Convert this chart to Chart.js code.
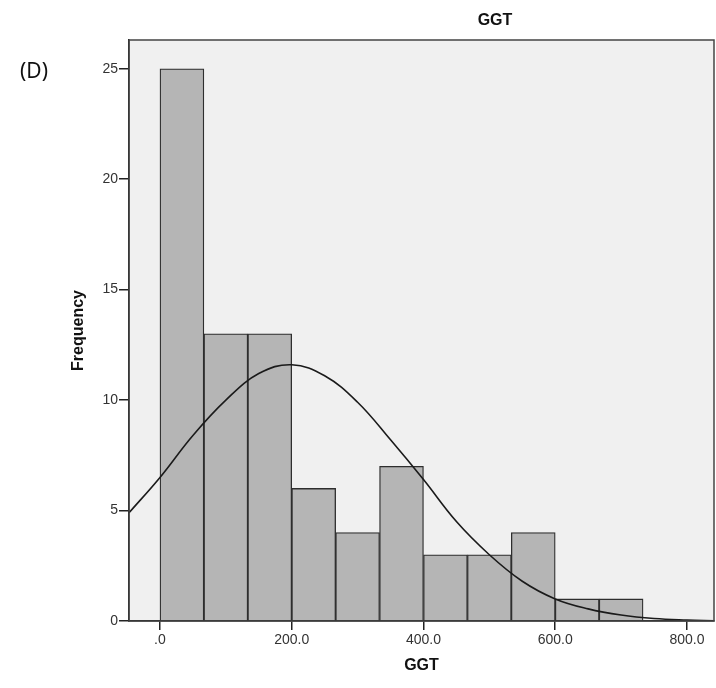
<!DOCTYPE html>
<html>
<head>
<meta charset="utf-8">
<script src="https://cdn.jsdelivr.net/npm/chart.js@4.4.0/dist/chart.umd.min.js"></script>
<style>
  html, body { margin: 0; padding: 0; background: #fff; }
  #wrap { position: relative; width: 716px; height: 688px; }
  #panel-label { position: absolute; left: 20px; top: 56px; font: 21px 'Noto Sans', sans-serif; color: #111; }
</style>
</head>
<body>
<div id="wrap">
  <canvas id="chart-ggt" width="716" height="688"></canvas>
  <div id="panel-label">(D)</div>
</div>
<script>
// Histogram bins (GGT) and counts
const binEdges = [0, 66.7, 133.3, 200, 266.7, 333.3, 400, 466.7, 533.3, 600, 666.7, 733.3];
const frequencies = [25, 13, 13, 6, 4, 7, 3, 3, 4, 1, 1];

// Fitted normal curve
const curveX = [-47, 0, 50, 100, 150, 200, 250, 300, 350, 400, 450, 500, 550, 600, 650, 700, 750, 800, 841];
const curveY = [4.9, 6.5, 8.4, 10.0, 11.2, 11.6, 11.1, 9.9, 8.2, 6.4, 4.5, 3.0, 1.8, 1.0, 0.55, 0.27, 0.11, 0.04, 0.01];

// Axis ticks
const xTicks = [0, 200, 400, 600, 800];
const xTickLabels = ['.0', '200.0', '400.0', '600.0', '800.0'];
const yTicks = [0, 5, 10, 15, 20, 25];

const barPoints = frequencies.map((f, i) => ({ x: (binEdges[i] + binEdges[i + 1]) / 2, y: f }));
const curvePoints = curveX.map((x, i) => ({ x: x, y: curveY[i] }));

// plot background + frame + title
const plotBg = {
  id: 'plotBg',
  beforeDraw(chart) {
    const { ctx, chartArea: a } = chart;
    ctx.save();
    ctx.fillStyle = '#f0f0f0';
    ctx.fillRect(a.left, a.top, a.right - a.left, a.bottom - a.top);
    ctx.restore();
  },
  afterDraw(chart) {
    const { ctx, chartArea: a } = chart;
    ctx.save();
    ctx.strokeStyle = '#444';
    ctx.lineWidth = 1.5;
    ctx.strokeRect(a.left, a.top, a.right - a.left, a.bottom - a.top);
    ctx.fillStyle = '#111';
    ctx.font = "bold 16px 'Liberation Sans', Arial, sans-serif";
    ctx.textAlign = 'center';
    ctx.textBaseline = 'middle';
    ctx.fillText('GGT', 495, 21);
    ctx.restore();
  }
};

Chart.defaults.font.family = "'Liberation Sans', Arial, sans-serif";
Chart.defaults.color = '#333';

new Chart(document.getElementById('chart-ggt').getContext('2d'), {
  data: {
    datasets: [
      {
        type: 'line',
        data: curvePoints,
        borderColor: '#1a1a1a',
        borderWidth: 1.6,
        pointRadius: 0,
        tension: 0.4,
        fill: false,
        order: 0
      },
      {
        type: 'bar',
        data: barPoints,
        backgroundColor: '#b5b5b5',
        borderColor: '#2e2e2e',
        borderWidth: 1.3,
        barPercentage: 1,
        categoryPercentage: 1,
        order: 1
      }
    ]
  },
  options: {
    responsive: false,
    animation: false,
    layout: { padding: { top: 40, right: 2, left: 0, bottom: 0 } },
    plugins: { legend: { display: false }, tooltip: { enabled: false } },
    scales: {
      x: {
        type: 'linear',
        min: -47,
        max: 841,
        offset: false,
        afterBuildTicks(scale) { scale.ticks = xTicks.map(v => ({ value: v })); },
        afterFit(scale) { scale.height = 67; },
        ticks: {
          callback: (v) => xTickLabels[xTicks.indexOf(v)],
          font: { size: 14 },
          color: '#333',
          padding: 2,
          maxRotation: 0
        },
        grid: { drawOnChartArea: false, offset: false, tickLength: 9, color: '#222', lineWidth: 1.5 },
        border: { color: '#111', width: 1.5 },
        title: { display: true, text: 'GGT', font: { size: 16, weight: 'bold' }, color: '#111', padding: { top: 0, bottom: 13 } }
      },
      y: {
        min: 0,
        max: 26.3,
        afterBuildTicks(scale) { scale.ticks = yTicks.map(v => ({ value: v })); },
        afterFit(scale) { scale.width = 129; },
        ticks: { font: { size: 14 }, color: '#333', padding: 1 },
        grid: { drawOnChartArea: false, tickLength: 10, color: '#222', lineWidth: 1.5 },
        border: { color: '#111', width: 1.5 },
        title: { display: true, text: 'Frequency', font: { size: 16, weight: 'bold' }, color: '#111', padding: { top: 69, bottom: 0 } }
      }
    }
  },
  plugins: [plotBg]
});
</script>
</body>
</html>
